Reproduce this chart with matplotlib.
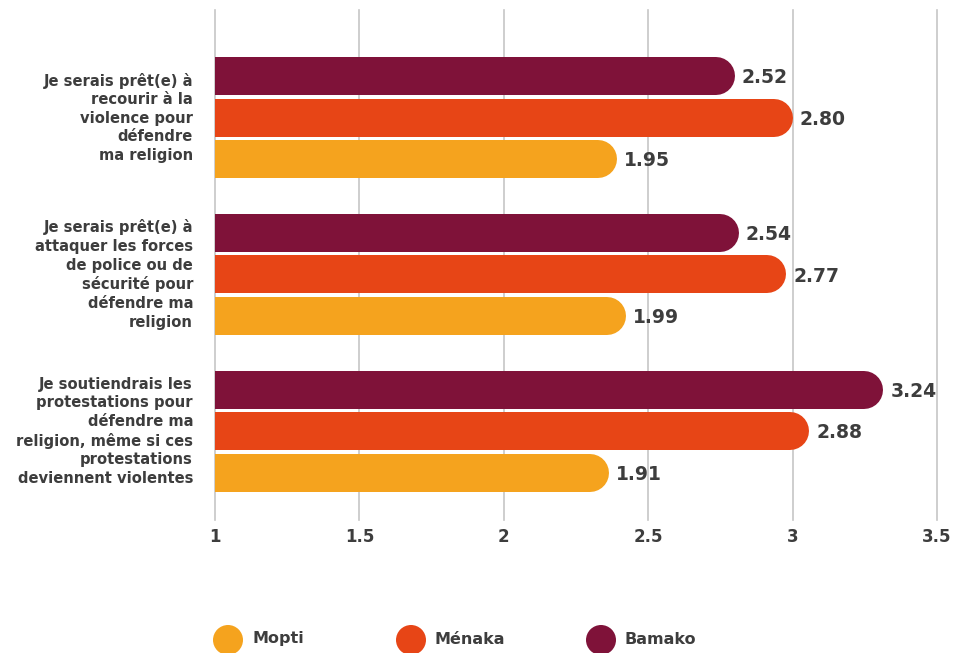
import matplotlib
matplotlib.use("Agg")
import matplotlib.pyplot as plt

# survey statements (top to bottom) and mean agreement per region
statements = [
    "Je serais prêt(e) à\nrecourir à la\nviolence pour\ndéfendre\nma religion",
    "Je serais prêt(e) à\nattaquer les forces\nde police ou de\nsécurité pour\ndéfendre ma\nreligion",
    "Je soutiendrais les\nprotestations pour\ndéfendre ma\nreligion, même si ces\nprotestations\ndeviennent violentes",
]
bamako = [2.52, 2.54, 3.24]
menaka = [2.80, 2.77, 2.88]
mopti = [1.95, 1.99, 1.91]

tick_labels = ["1", "1.5", "2", "2.5", "3", "3.5"]

colors = {"Bamako": "#7f1239", "Ménaka": "#e74516", "Mopti": "#f5a31e"}
text_color = "#3d3d3d"

plt.rcParams["font.family"] = ["DejaVu Sans"]
plt.rcParams["font.weight"] = "bold"

W, H = 957, 653
fig = plt.figure(figsize=(W / 100, H / 100), dpi=100)
ax = fig.add_axes([215 / W, (H - 520) / H, (937 - 215) / W, 510 / H])

xmax = 3.5
ax.set_xlim(0, xmax)
ax.set_ylim(2.567, -0.688)

# bars run 0..3.5 across the axis while the tick labels read 1..3.5
ticks = [i * xmax / (len(tick_labels) - 1) for i in range(len(tick_labels))]
ax.set_xticks(ticks)
ax.set_xticklabels(tick_labels, fontsize=12, color=text_color, fontweight="bold")
ax.tick_params(axis="x", length=0, pad=6)
ax.set_yticks([])
for s in ax.spines.values():
    s.set_visible(False)
ax.grid(axis="x", color="#c6c6c6", linewidth=1.2)
for gl in ax.get_xgridlines():
    gl.set_clip_on(False)
ax.set_axisbelow(True)

bar_px = 38
lw = bar_px * 72 / 100
px_per_unit = ax.get_position().width * W / xmax
cap = (bar_px / 2) / px_per_unit

offsets = {"Bamako": -0.265, "Ménaka": 0.0, "Mopti": 0.265}
series = {"Bamako": bamako, "Ménaka": menaka, "Mopti": mopti}

for name, vals in series.items():
    for i, v in enumerate(vals):
        y = i + offsets[name]
        ax.plot([0, v - cap], [y, y], color=colors[name], linewidth=lw,
                solid_capstyle="round", zorder=3)
        ax.text(v + 7 / px_per_unit, y + 0.01, f"{v:.2f}", va="center", ha="left",
                fontsize=13.5, fontweight="bold", color=text_color, zorder=4)

for i, label in enumerate(statements):
    ax.text(-22 / px_per_unit, i, label, ha="right", va="center", fontsize=10.6,
            fontweight="bold", color=text_color, linespacing=1.3, clip_on=False)

# legend row drawn in pixel space along the bottom edge
leg = fig.add_axes([0, 0, 1, 1], facecolor="none")
leg.set_xlim(0, W)
leg.set_ylim(H, 0)
leg.axis("off")
legend_items = [("Mopti", 228), ("Ménaka", 411), ("Bamako", 601)]
for name, cx in legend_items:
    leg.scatter([cx], [640], s=(30 * 0.72) ** 2, color=colors[name],
                edgecolors="none", clip_on=False)
    leg.text(cx + 24, 639, name, ha="left", va="center", fontsize=11.5,
             fontweight="bold", color=text_color)

fig.savefig("out.png", dpi=100)
